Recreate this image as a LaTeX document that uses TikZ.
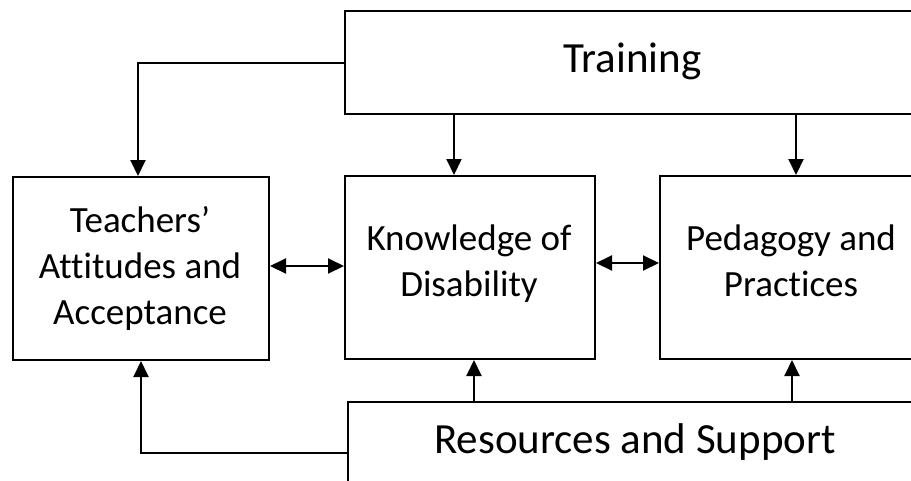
\documentclass[tikz,border=0pt]{standalone}
\usepackage{fontspec}
\setmainfont{Carlito}[Ligatures=NoCommon]
\usetikzlibrary{arrows.meta}
\begin{document}
\begin{tikzpicture}[x=1pt,y=-1pt,
  box/.style={draw=black, line width=2pt, inner sep=0pt, anchor=north west},
  bigbox/.style={draw=black, line width=1.5pt, inner sep=0pt, anchor=north west},
  boxtext/.style={font=\fontsize{37}{46}\selectfont, inner sep=0pt, anchor=base},
  bigtext/.style={font=\fontsize{43}{50}\selectfont, inner sep=0pt, anchor=base},
  arr/.style={line width=2pt, -{Triangle[length=16pt,width=15pt]}},
  darr/.style={line width=2pt, {Triangle[length=16pt,width=15pt]}-{Triangle[length=16pt,width=15pt]}}]
\useasboundingbox (0,0) rectangle (911,480);
\clip (0,0) rectangle (911,480);
% boxes
\node[bigbox, minimum width=640pt, minimum height=103pt] (train) at (344,10) {};
\node[bigtext] (traintxt) at (632.5,72) {Training};
\node[box, minimum width=256pt, minimum height=183pt] (teach) at (12,176) {};
\node[boxtext] (teachtxt) at (140,232) {\begin{tabular}[t]{@{}c@{}}Teachers’\\Attitudes and\\Acceptance\end{tabular}};
\node[box, minimum width=250pt, minimum height=183pt] (know) at (344,175) {};
\node[boxtext] (knowtxt) at (469,250.5) {\begin{tabular}[t]{@{}c@{}}Knowledge of\\Disability\end{tabular}};
\node[box, minimum width=340pt, minimum height=183pt] (ped) at (659,175) {};
\node[boxtext] (pedtxt) at (791,250.5) {\begin{tabular}[t]{@{}c@{}}Pedagogy and\\Practices\end{tabular}};
\node[bigbox, minimum width=640pt, minimum height=120pt] (res) at (347,401) {};
\node[bigtext] (restxt) at (635,453) {Resources and Support};
% connectors
\draw[arr] (train.west |- 0,63) -| (teach.north -| 138,0);
\draw[arr] (train.south -| 454,0) -- (know.north -| 454,0);
\draw[arr] (train.south -| 796,0) -- (ped.north -| 796,0);
\draw[arr] (res.west |- 0,453) -| (teach.south);
\draw[arr] (res.north -| 474,0) -- (know.south -| 474,0);
\draw[arr] (res.north -| 792,0) -- (ped.south -| 792,0);
\draw[darr] (teach.east |- 0,266) -- (know.west |- 0,266);
\draw[darr] (know.east |- 0,263) -- (ped.west |- 0,263);
\end{tikzpicture}
\end{document}
